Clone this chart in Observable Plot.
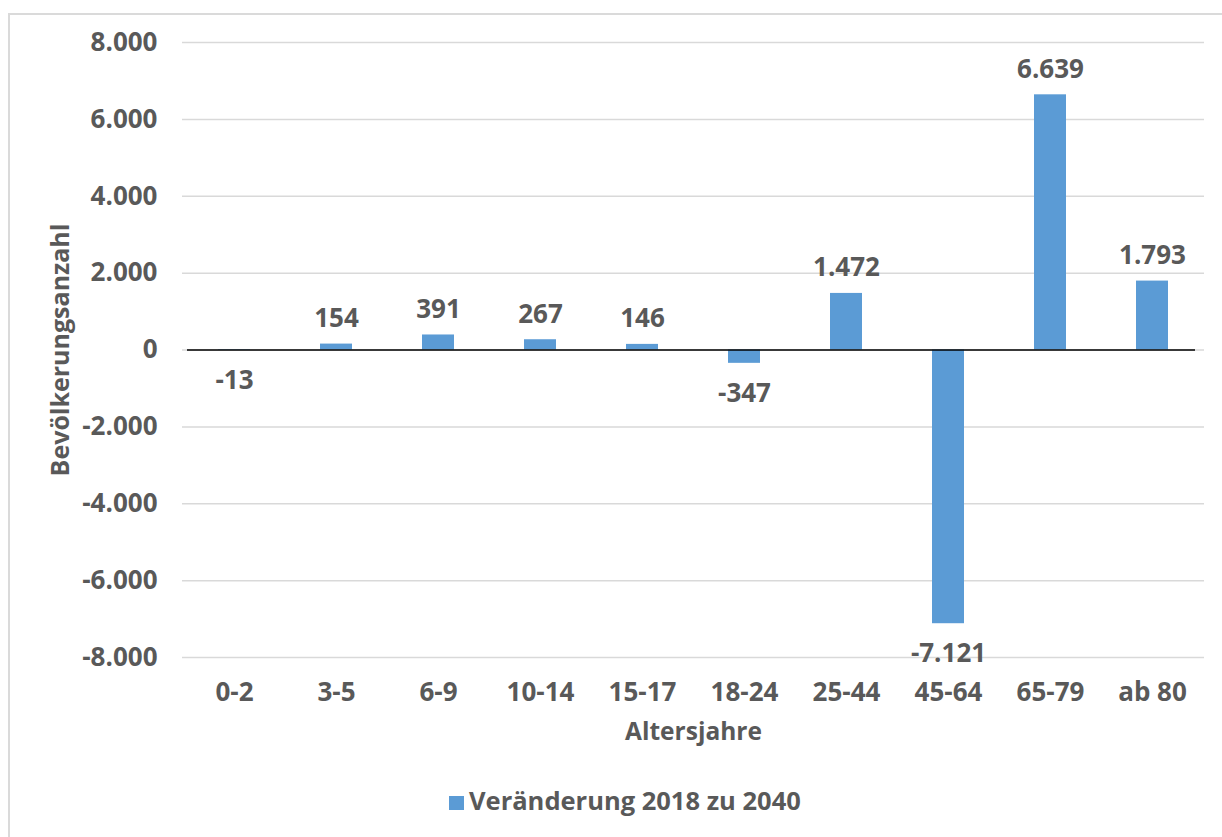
<!DOCTYPE html>
<html>
<head>
<meta charset="utf-8">
<script src="https://cdn.jsdelivr.net/npm/d3@7"></script>
<script src="https://cdn.jsdelivr.net/npm/@observablehq/plot@0.6"></script>
<style>
  body { margin: 0; background: #fff; font-family: "Open Sans", sans-serif; }
  #frame { position: absolute; left: 8px; top: 13px; width: 1400px; height: 1000px;
           border-top: 2px solid #dadada; border-left: 2px solid #dadada; pointer-events: none; }
  #chart svg { display: block; }
  #legend { margin-top: 24px; padding-left: 449px; font-size: 25.5px; line-height: 32px;
            font-weight: bold; color: #595959; white-space: nowrap; }
  #legend .sw { display: inline-block; width: 15px; height: 14px; background: #5b9bd5;
                vertical-align: baseline; margin-right: 5px; }
</style>
</head>
<body>
<div id="chart"></div>
<div id="legend"></div>
<div id="frame"></div>
<script>
const categories = ["0-2", "3-5", "6-9", "10-14", "15-17", "18-24", "25-44", "45-64", "65-79", "ab 80"];
const values = [-13, 154, 391, 267, 146, -347, 1472, -7121, 6639, 1793];
const yTicks = [-8000, -6000, -4000, -2000, 0, 2000, 4000, 6000, 8000];
const seriesName = "Veränderung 2018 zu 2040";
const xTitle = "Altersjahre";
const yTitle = "Bevölkerungsanzahl";

const locale = d3.formatLocale({decimal: ",", thousands: ".", grouping: [3], currency: ["", " €"], minus: "-"});
const fmt = locale.format(",d");

const data = categories.map((c, i) => ({category: c, value: values[i]}));
const barColor = "#5b9bd5";
const textColor = "#595959";

const chart = Plot.plot({
  width: 1222,
  height: 760,
  marginLeft: 182,
  marginRight: 18,
  marginTop: 42,
  marginBottom: 103,
  style: {fontFamily: "'Open Sans', sans-serif", fontSize: "26px", fontWeight: "bold", color: textColor, background: "transparent"},
  x: {domain: categories, paddingInner: 0.687, paddingOuter: 0.3435, label: null},
  y: {domain: [-8000, 8000], label: null},
  marks: [
    Plot.ruleY(yTicks, {stroke: "#d9d9d9", strokeWidth: 1.5}),
    Plot.barY(data, {x: "category", y: "value", fill: barColor}),
    Plot.ruleY([0], {stroke: "#000", strokeWidth: 1.6, insetLeft: 5, insetRight: 9}),
    Plot.axisY({ticks: yTicks, tickFormat: fmt, tickSize: 0, tickPadding: 25, label: null, fontSize: 26, fontWeight: "bold"}),
    Plot.axisX({tickSize: 0, tickPadding: 25, label: null, fontSize: 26, fontWeight: "bold"}),
    Plot.text(data.filter(d => d.value >= 0), {x: "category", y: "value", text: d => fmt(d.value), lineAnchor: "bottom", dy: -17, fontSize: 26, fontWeight: "bold", fill: textColor}),
    Plot.text(data.filter(d => d.value < 0), {x: "category", y: "value", text: d => fmt(d.value), lineAnchor: "top", dy: 20, fontSize: 26, fontWeight: "bold", fill: textColor}),
    Plot.text([xTitle], {frameAnchor: "bottom", lineAnchor: "bottom", dy: 82, fontSize: 24.5, fontWeight: "bold", fill: textColor}),
    Plot.text([yTitle], {frameAnchor: "left", textAnchor: "middle", rotate: -90, lineAnchor: "bottom", dx: -114, fontSize: 25, fontWeight: "bold", fill: textColor})
  ]
});
document.getElementById("chart").appendChild(chart);

const legend = document.getElementById("legend");
const sw = document.createElement("span");
sw.className = "sw";
legend.appendChild(sw);
legend.appendChild(document.createTextNode(seriesName));
</script>
</body>
</html>
